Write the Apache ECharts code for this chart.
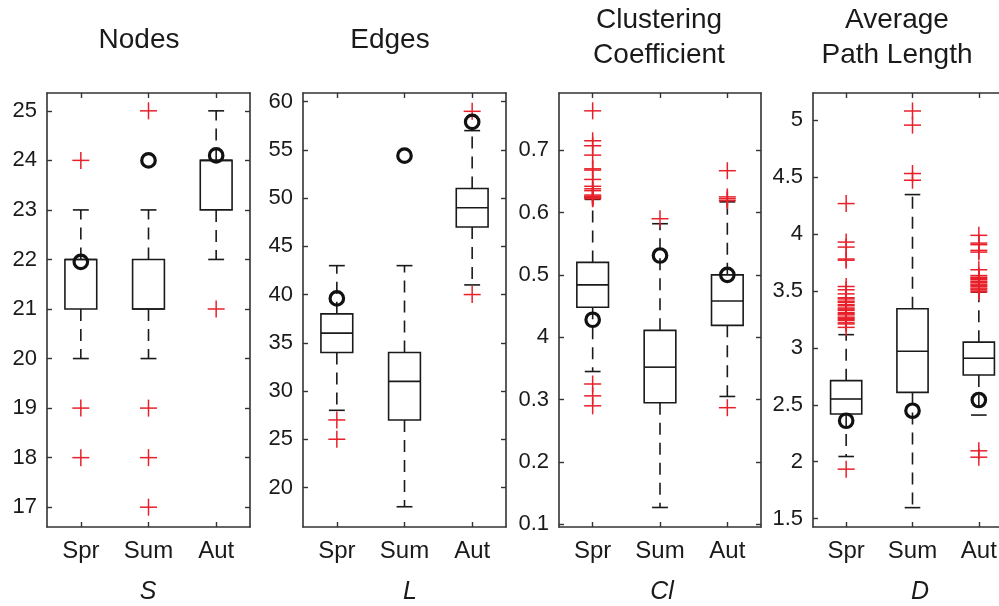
<!DOCTYPE html>
<html>
<head>
<meta charset="utf-8">
<script src="https://cdn.jsdelivr.net/npm/echarts@6/dist/echarts.min.js"></script>
<style>
  html, body { margin: 0; padding: 0; background: #fff; overflow: hidden; }
  #chart { width: 1016px; height: 606px; }
</style>
</head>
<body>
<div id="chart"></div>
<script>
// Seasons on every x axis
const categories = ['Spr', 'Sum', 'Aut'];

// Box statistics per season: [lower whisker, Q1, median, Q3, upper whisker]
const nodesBox = [[20, 21, 22, 22, 23], [20, 21, 21, 22, 23], [22, 23, 24, 24, 25]];
const edgesBox = [[28, 34, 36, 38, 43], [18, 27, 31, 34, 43], [41, 47, 49, 51, 57]];
const clusteringBox = [[0.345, 0.448, 0.484, 0.52, 0.621], [0.127, 0.295, 0.352, 0.411, 0.582], [0.305, 0.419, 0.458, 0.5, 0.617]];
const pathBox = [[2.046, 2.419, 2.551, 2.712, 3.116], [1.597, 2.609, 2.97, 3.343, 4.346], [2.41, 2.762, 2.909, 3.05, 3.489]];

// Outliers per season
const nodesOutliers = [[24, 19, 18], [25, 19, 18, 17], [21]];
const edgesOutliers = [[27, 25], [], [59, 40]];
const clusteringOutliers = [
  [0.763, 0.715, 0.707, 0.692, 0.670, 0.668, 0.653, 0.642, 0.638, 0.635, 0.628, 0.626, 0.625, 0.624, 0.623, 0.622, 0.325, 0.306, 0.29],
  [0.59],
  [0.667, 0.625, 0.622, 0.619, 0.287]
];
const pathOutliers = [
  [4.267, 3.929, 3.885, 3.78, 3.77, 3.539, 3.51, 3.474, 3.44, 3.43, 3.41, 3.40, 3.38, 3.37, 3.35, 3.34, 3.33, 3.31, 3.30, 3.29, 3.27, 3.26, 3.25, 3.24, 3.22, 3.21, 3.18, 1.935],
  [5.08, 4.956, 4.531, 4.472],
  [3.988, 3.92, 3.906, 3.856, 3.841, 3.686, 3.635, 3.62, 3.61, 3.60, 3.585, 3.575, 3.56, 3.55, 3.54, 3.525, 3.515, 3.50, 3.49, 2.096, 2.04]
];

// Highlighted value per season (ringed markers)
const nodesMarked = [21.95, 24, 24.1];
const edgesMarked = [39.6, 54.4, 57.9];
const clusteringMarked = [0.428, 0.531, 0.5];
const pathMarked = [2.36, 2.448, 2.542];

// Y tick values and their label texts
const nodesTicks = [17, 18, 19, 20, 21, 22, 23, 24, 25];
const nodesTickLabels = ['17', '18', '19', '20', '21', '22', '23', '24', '25'];
const edgesTicks = [20, 25, 30, 35, 40, 45, 50, 55, 60];
const edgesTickLabels = ['20', '25', '30', '35', '40', '45', '50', '55', '60'];
const clusteringTicks = [0.1, 0.2, 0.3, 0.4, 0.5, 0.6, 0.7];
const clusteringTickLabels = ['0.1', '0.2', '0.3', '4', '0.5', '0.6', '0.7'];
const pathTicks = [1.5, 2, 2.5, 3, 3.5, 4, 4.5, 5];
const pathTickLabels = ['1.5', '2', '2.5', '3', '3.5', '4', '4.5', '5'];

// Panel titles and symbols
const titles = ['Nodes', 'Edges', 'Clustering\nCoefficient', 'Average\nPath Length'];
const symbols = ['S', 'L', 'Cl', 'D'];

const panels = [
  { box: nodesBox, out: nodesOutliers, mark: nodesMarked, ticks: nodesTicks, labels: nodesTickLabels,
    left: 47, width: 203, min: 16.6, max: 25.36, titleX: 139, symX: 148 },
  { box: edgesBox, out: edgesOutliers, mark: edgesMarked, ticks: edgesTicks, labels: edgesTickLabels,
    left: 303, width: 203, min: 15.9, max: 60.9, titleX: 390, symX: 410 },
  { box: clusteringBox, out: clusteringOutliers, mark: clusteringMarked, ticks: clusteringTicks, labels: clusteringTickLabels,
    left: 559, width: 202, min: 0.0957, max: 0.7916, titleX: 659, symX: 662 },
  { box: pathBox, out: pathOutliers, mark: pathMarked, ticks: pathTicks, labels: pathTickLabels,
    left: 813, width: 199, min: 1.427, max: 5.238, titleX: 897, symX: 920 }
];

const FONT = '"Liberation Sans", Arial, sans-serif';
const FRAME = '#333';
const INK = '#1a1a1a';
const RED = '#e8202a';

function renderBox(params, api) {
  const idx = api.value(0);
  const v = [1, 2, 3, 4, 5].map(i => api.value(i));
  const y = v.map(val => api.coord([idx, val])[1]);
  const cx = api.coord([idx, v[0]])[0];
  const band = api.size([1, 0])[0];
  const half = band * 0.235;
  const capHalf = half / 2;
  const solid = { stroke: INK, lineWidth: 1.6, fill: null };
  const dashed = { stroke: INK, lineWidth: 1.6, fill: null, lineDash: [12, 8] };
  return {
    type: 'group',
    children: [
      { type: 'line', shape: { x1: cx, y1: y[3], x2: cx, y2: y[4] }, style: dashed },
      { type: 'line', shape: { x1: cx, y1: y[1], x2: cx, y2: y[0] }, style: dashed },
      { type: 'line', shape: { x1: cx - capHalf, y1: y[4], x2: cx + capHalf, y2: y[4] }, style: solid },
      { type: 'line', shape: { x1: cx - capHalf, y1: y[0], x2: cx + capHalf, y2: y[0] }, style: solid },
      { type: 'rect', shape: { x: cx - half, y: y[3], width: 2 * half, height: y[1] - y[3] }, style: solid },
      { type: 'line', shape: { x1: cx - half, y1: y[2], x2: cx + half, y2: y[2] }, style: solid }
    ]
  };
}

function renderCross(params, api) {
  const p = api.coord([api.value(0), api.value(1)]);
  const s = 8.5;
  const st = { stroke: RED, lineWidth: 1.5, fill: null };
  return {
    type: 'group',
    children: [
      { type: 'line', shape: { x1: p[0] - s, y1: p[1], x2: p[0] + s, y2: p[1] }, style: st },
      { type: 'line', shape: { x1: p[0], y1: p[1] - s, x2: p[0], y2: p[1] + s }, style: st }
    ]
  };
}

const grid = [], xAxis = [], yAxis = [], series = [], graphic = [];

panels.forEach((p, g) => {
  grid.push({ left: p.left, width: p.width, top: 93, height: 434 });
  const lineStyle = { color: FRAME, width: 1.6 };
  const xBase = {
    type: 'category', data: categories, gridIndex: g, boundaryGap: true,
    axisLine: { show: true, lineStyle },
    axisTick: { show: true, inside: true, alignWithLabel: true, length: 5, lineStyle: { color: FRAME, width: 1.4 } },
    splitLine: { show: false }
  };
  xAxis.push(Object.assign({}, xBase, {
    position: 'bottom',
    axisLabel: { show: true, margin: 12, fontFamily: FONT, fontSize: 24, color: INK }
  }));
  xAxis.push(Object.assign({}, xBase, { position: 'top', axisLabel: { show: false } }));

  const yBase = {
    type: 'value', gridIndex: g, min: p.min, max: p.max,
    axisLine: { show: true, lineStyle },
    axisTick: { show: true, inside: true, length: 5, customValues: p.ticks, lineStyle: { color: FRAME, width: 1.4 } },
    splitLine: { show: false }
  };
  yAxis.push(Object.assign({}, yBase, {
    position: 'left',
    axisLabel: {
      show: true, margin: 10, fontFamily: FONT, fontSize: 22, color: INK,
      customValues: p.ticks,
      formatter: val => {
        const i = p.ticks.findIndex(t => Math.abs(t - val) < 1e-9);
        return i >= 0 ? p.labels[i] : '';
      }
    }
  }));
  yAxis.push(Object.assign({}, yBase, { position: 'right', axisLabel: { show: false } }));

  const xi = g * 2, yi = g * 2;
  series.push({
    type: 'custom', xAxisIndex: xi, yAxisIndex: yi, renderItem: renderBox, z: 2,
    data: p.box.map((b, i) => [i].concat(b))
  });
  const crosses = [];
  p.out.forEach((list, i) => list.forEach(val => crosses.push([i, val])));
  series.push({
    type: 'custom', xAxisIndex: xi, yAxisIndex: yi, renderItem: renderCross, z: 3,
    data: crosses
  });
  series.push({
    type: 'scatter', xAxisIndex: xi, yAxisIndex: yi, z: 4,
    symbol: 'circle', symbolSize: 13.5,
    itemStyle: { color: 'rgba(0,0,0,0)', borderColor: '#111', borderWidth: 3.2, opacity: 1 },
    data: p.mark.map((val, i) => [i, val])
  });

  const multi = titles[g].indexOf('\n') >= 0;
  graphic.push({
    type: 'text', x: p.titleX, y: multi ? 38 : 40, silent: true,
    style: {
      text: titles[g], font: '28px ' + FONT, fill: INK,
      textAlign: 'center', textVerticalAlign: 'middle', align: 'center', verticalAlign: 'middle',
      lineHeight: 35
    }
  });
  graphic.push({
    type: 'text', x: p.symX, y: 592, silent: true,
    style: {
      text: symbols[g], font: 'italic 25px ' + FONT, fill: INK,
      textAlign: 'center', textVerticalAlign: 'middle', align: 'center', verticalAlign: 'middle'
    }
  });
});

const chart = echarts.init(document.getElementById('chart'), null, { renderer: 'canvas' });
chart.setOption({
  animation: false,
  backgroundColor: '#fff',
  grid, xAxis, yAxis, series, graphic
});
</script>
</body>
</html>
